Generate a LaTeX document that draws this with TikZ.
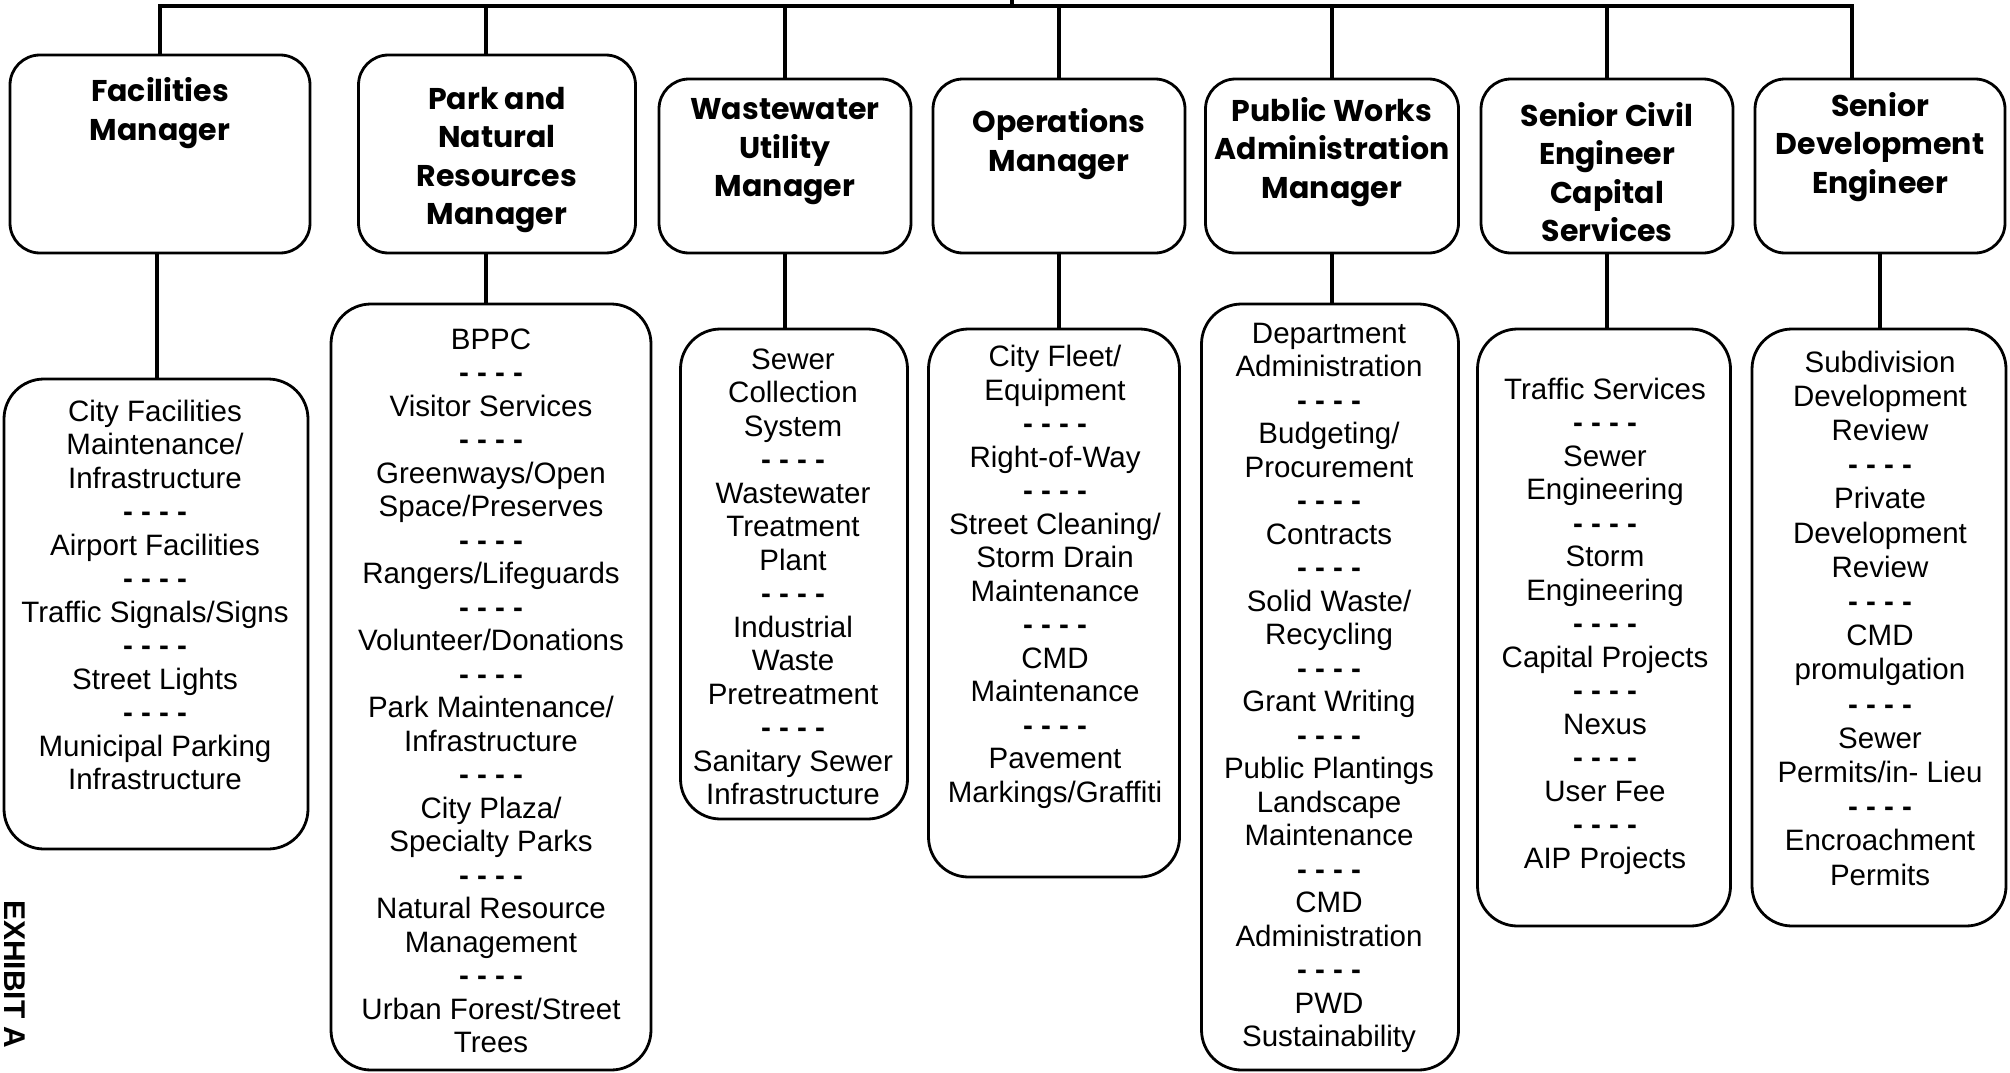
\documentclass[tikz,border=0pt]{standalone}
\usepackage{fontspec}
\setmainfont{Liberation Sans}
\newfontfamily\headfont{Poppins}
\usetikzlibrary{positioning}

\newcommand{\rulesep}{{\bfseries - - - -}}

\begin{document}
\begin{tikzpicture}
  [
    x=1pt, y=-1pt,
    head/.style={
      draw=black,
      line width=2.8pt,
      rounded corners=30pt,
      inner sep=0pt,
      minimum width=252pt,
      minimum height=174pt
    },
    sub/.style={
      draw=black,
      line width=2.8pt,
      rounded corners=40pt,
      inner sep=0pt
    },
    headtext/.style={
      align=center,
      inner sep=0pt,
      font=\headfont\bfseries\fontsize{30}{38.5}\selectfont
    },
    subtext/.style={
      align=center,
      inner sep=0pt,
      font=\fontsize{29.5}{33.5}\selectfont
    },
    link/.style={draw=black, line width=3.5pt},
    bus/.style={draw=black, line width=4.5pt, line cap=rect}
  ]
  \useasboundingbox [fill=white] (0,0) rectangle (2010,1073);

  % manager boxes
  \node (h1) at (160,154)  [head, minimum width=300pt, minimum height=198pt] {};
  \node (h2) at (497,154)  [head, minimum width=277pt, minimum height=198pt] {};
  \node (h3) at (785,166)  [head] {};
  \node (h4) at (1059,166) [head] {};
  \node (h5) at (1332,166) [head, minimum width=253pt] {};
  \node (h6) at (1607,166) [head] {};
  \node (h7) at (1880,166) [head, minimum width=250pt] {};

  \node (h1t) at (160,113)  [headtext] {Facilities\\Manager};
  \node (h2t) at (497,160)  [headtext] {Park and\\Natural\\Resources\\Manager};
  \node (h3t) at (785,152)  [headtext] {Wastewater\\Utility\\Manager};
  \node (h4t) at (1059,144) [headtext] {Operations\\Manager};
  \node (h5t) at (1332,152) [headtext] {Public Works\\Administration\\Manager};
  \node (h6t) at (1607,172) [headtext] {Senior Civil\\Engineer\\Capital\\Services};
  \node (h7t) at (1880,147) [headtext] {Senior\\Development\\Engineer};

  % section boxes
  \node (l1) at (156,614)    [sub, minimum width=304pt, minimum height=470pt] {};
  \node (l2) at (491,687)    [sub, minimum width=320pt, minimum height=766pt] {};
  \node (l3) at (794,574)    [sub, minimum width=227pt, minimum height=490pt] {};
  \node (l4) at (1054,603)   [sub, minimum width=251pt, minimum height=548pt] {};
  \node (l5) at (1330,687)   [sub, minimum width=257pt, minimum height=766pt] {};
  \node (l6) at (1604,627.5) [sub, minimum width=253pt, minimum height=597pt] {};
  \node (l7) at (1879,627.5) [sub, minimum width=254pt, minimum height=597pt] {};

  \node (l1t) at (155,595) [subtext] {City Facilities\\Maintenance/\\Infrastructure\\\rulesep\\Airport Facilities\\\rulesep\\Traffic Signals/Signs\\\rulesep\\Street Lights\\\rulesep\\Municipal Parking\\Infrastructure};
  \node (l2t) at (491,691) [subtext] {BPPC\\\rulesep\\Visitor Services\\\rulesep\\Greenways/Open\\Space/Preserves\\\rulesep\\Rangers/Lifeguards\\\rulesep\\Volunteer/Donations\\\rulesep\\Park Maintenance/\\Infrastructure\\\rulesep\\City Plaza/\\Specialty Parks\\\rulesep\\Natural Resource\\Management\\\rulesep\\Urban Forest/Street\\Trees};
  \node (l3t) at (793,577) [subtext] {Sewer\\Collection\\System\\\rulesep\\Wastewater\\Treatment\\Plant\\\rulesep\\Industrial\\Waste\\Pretreatment\\\rulesep\\Sanitary Sewer\\Infrastructure};
  \node (l4t) at (1055,577) [subtext] {City Fleet/\\Equipment\\\rulesep\\Right-of-Way\\\rulesep\\Street Cleaning/\\Storm Drain\\Maintenance\\\rulesep\\CMD\\Maintenance\\\rulesep\\Pavement\\Markings/Graffiti};
  \node (l5t) at (1329,688) [subtext] {Department\\Administration\\\rulesep\\Budgeting/\\Procurement\\\rulesep\\Contracts\\\rulesep\\Solid Waste/\\Recycling\\\rulesep\\Grant Writing\\\rulesep\\Public Plantings\\Landscape\\Maintenance\\\rulesep\\CMD\\Administration\\\rulesep\\PWD\\Sustainability};
  \node (l6t) at (1605,626) [subtext] {Traffic Services\\\rulesep\\Sewer\\Engineering\\\rulesep\\Storm\\Engineering\\\rulesep\\Capital Projects\\\rulesep\\Nexus\\\rulesep\\User Fee\\\rulesep\\AIP Projects};
  \node (l7t) at (1880,618) [subtext, font=\fontsize{29.5}{34.2}\selectfont] {Subdivision\\Development\\Review\\\rulesep\\Private\\Development\\Review\\\rulesep\\CMD\\promulgation\\\rulesep\\Sewer\\Permits/in- Lieu\\\rulesep\\Encroachment\\Permits};

  \node (exhibit) at (5,900) [rotate=-90, anchor=base west, inner sep=0pt,
    font=\bfseries\fontsize{30}{30}\selectfont] {EXHIBIT A};

  % reporting lines
  \coordinate (bus) at (0,6);
  \coordinate (root) at (1012,-10);
  \draw [bus] (h1.north |- bus) -- ([xshift=-28pt]h7.north |- bus);
  \draw [link] (root) -- (root |- bus);

  \draw [link] (h1.north) -- (h1.north |- bus);
  \draw [link] ([xshift=-11pt]h2.north) -- ([xshift=-11pt]h2.north |- bus);
  \draw [link] (h3.north) -- (h3.north |- bus);
  \draw [link] (h4.north) -- (h4.north |- bus);
  \draw [link] (h5.north) -- (h5.north |- bus);
  \draw [link] (h6.north) -- (h6.north |- bus);
  \draw [link] ([xshift=-28pt]h7.north) -- ([xshift=-28pt]h7.north |- bus);

  \draw [link] ([xshift=-3pt]h1.south) -- ([xshift=-3pt]h1.south |- l1.north);
  \draw [link] ([xshift=-11pt]h2.south) -- ([xshift=-11pt]h2.south |- l2.north);
  \draw [link] (h3.south) -- (h3.south |- l3.north);
  \draw [link] (h4.south) -- (h4.south |- l4.north);
  \draw [link] (h5.south) -- (h5.south |- l5.north);
  \draw [link] (h6.south) -- (h6.south |- l6.north);
  \draw [link] (h7.south) -- (h7.south |- l7.north);
\end{tikzpicture}
\end{document}
